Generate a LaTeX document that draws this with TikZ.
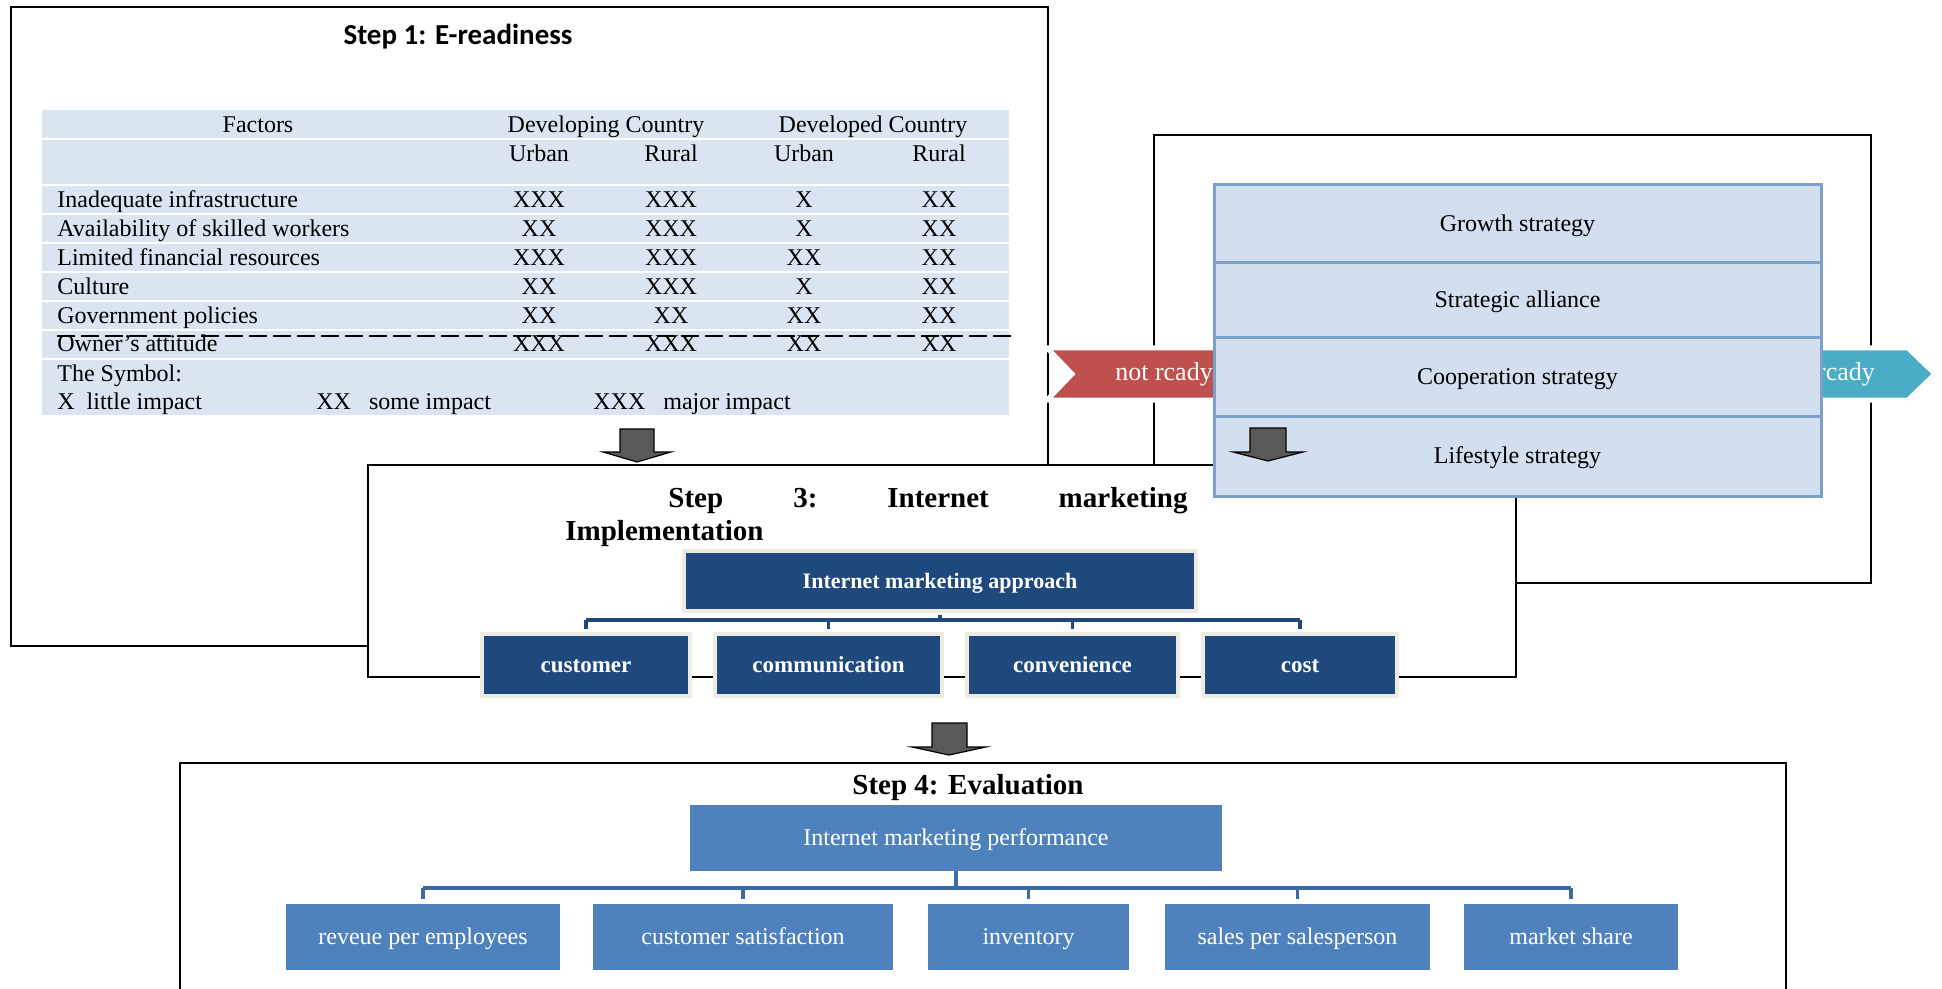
\documentclass[tikz,border=0pt]{standalone}
\usepackage{fontspec}
\setmainfont{Liberation Serif}
\newfontfamily\calibrifont{Carlito}
\definecolor{tabfill}{HTML}{DBE5F1}
\definecolor{stratfill}{HTML}{D3DFEE}
\definecolor{stratline}{HTML}{7BA0CD}
\definecolor{chevred}{HTML}{C0504D}
\definecolor{chevblue}{HTML}{4BACC6}
\definecolor{darkblue}{HTML}{1F497D}
\definecolor{creamline}{HTML}{EEECE1}
\definecolor{midblue}{HTML}{4F81BD}
\definecolor{connblue}{HTML}{3C6AA3}
\definecolor{arrowgray}{HTML}{595959}
\begin{document}
\begin{tikzpicture}[x=0.5pt,y=-0.5pt,
  stepbox/.style={draw=black,fill=white,line width=1.1pt},
  tabtxt/.style={inner sep=0pt,font=\fontsize{12}{14}\selectfont},
  ttlthree/.style={inner sep=0pt,font=\bfseries\fontsize{14.5}{17}\selectfont},
  chevtxt/.style={inner sep=0pt,text=white,font=\fontsize{13}{15}\selectfont},
  chev/.style={draw=white,line width=2.5pt,line join=miter},
  evenbase/.style={text height=0.8em,text depth=0.05em},
  strat/.style={evenbase,draw=stratline,fill=stratfill,line width=1.5pt,minimum width=303.5pt,inner sep=0pt,font=\fontsize{12}{14}\selectfont},
  dkbox/.style={evenbase,draw=creamline,fill=darkblue,line width=2pt,inner sep=0pt,text=white,font=\bfseries\fontsize{11.5}{14}\selectfont},
  lbbox/.style={evenbase,fill=midblue,inner sep=0pt,text=white,minimum height=33pt,font=\fontsize{12}{14}\selectfont},
  blockarrow/.style={draw=black,fill=arrowgray,line width=0.6pt,line join=miter},
  connthree/.style={draw=darkblue,line width=2pt},
  dropthree/.style={draw=darkblue,line width=1.6pt},
  connfour/.style={draw=connblue,line width=2pt},
  dropfour/.style={draw=connblue,line width=1.6pt}
]
\useasboundingbox (0,0) rectangle (1942,989);

% ---------- Step 1 ----------
\draw[stepbox] (11,7) rectangle (1048,646);
\node[inner sep=0pt,anchor=base,font=\calibrifont\bfseries\fontsize{14.5}{17}\selectfont] (title1) at (458,45) {Step 1: E-readiness};

\fill[tabfill] (42,110) rectangle (1009,138);
\fill[tabfill] (42,140) rectangle (1009,184);
\foreach \i in {0,...,5}{
  \fill[tabfill] (42,186+29*\i) rectangle (1009,213+29*\i);
}
\fill[tabfill] (42,360) rectangle (1009,415);

\node[tabtxt,anchor=base] (hfac) at (258,133) {Factors};
\node[tabtxt,anchor=base] (hdev) at (606,133) {Developing Country};
\node[tabtxt,anchor=base] (hded) at (873,133) {Developed Country};
\node[tabtxt,anchor=base] (hu1) at (539,162) {Urban};
\node[tabtxt,anchor=base] (hr1) at (671,162) {Rural};
\node[tabtxt,anchor=base] (hu2) at (804,162) {Urban};
\node[tabtxt,anchor=base] (hr2) at (939,162) {Rural};

\foreach \lab/\a/\b/\c/\d [count=\i] in {
  Inadequate infrastructure/XXX/XXX/X/XX,
  Availability of skilled workers/XX/XXX/X/XX,
  Limited financial resources/XXX/XXX/XX/XX,
  Culture/XX/XXX/X/XX,
  Government policies/XX/XX/XX/XX,
  Owner’s attitude/XXX/XXX/XX/XX}{
  \pgfmathsetmacro\yb{208+28.8*(\i-1)}
  \node[tabtxt,anchor=base west] (fac\i) at (57,\yb) {\lab};
  \node[tabtxt,anchor=base] (du\i) at (539,\yb) {\a};
  \node[tabtxt,anchor=base] (dr\i) at (671,\yb) {\b};
  \node[tabtxt,anchor=base] (eu\i) at (804,\yb) {\c};
  \node[tabtxt,anchor=base] (er\i) at (939,\yb) {\d};
}
\draw[black,line width=1pt,dash pattern=on 9pt off 3pt] (57,336) -- (1013,336);

\node[tabtxt,anchor=base west] (sym) at (57,381) {The Symbol:};
\node[tabtxt,anchor=base west] (sym1) at (57,409) {X\ \ little impact};
\node[tabtxt,anchor=base west] (sym2) at (316,409) {XX\ \ \ some impact};
\node[tabtxt,anchor=base west] (sym3) at (593,409) {XXX\ \ \ major impact};

% ---------- Step 2 outer box ----------
\draw[stepbox] (1154,135) rectangle (1871,583);

% arrow step1 -> step3
\draw[blockarrow] (620,429) -- (654,429) -- (654,452) -- (671,452) -- (637,462) -- (603,452) -- (620,452) -- cycle;

% ---------- Step 3 box ----------
\draw[stepbox] (368,465) rectangle (1516,677);

% ---------- chevrons ----------
\draw[chev,fill=chevred] (1047,348) -- (1300,348) -- (1300,400) -- (1047,400) -- (1072,374) -- cycle;
\node[chevtxt] (notready) at (1164,374) {not rcady};
\draw[chev,fill=chevblue] (1740,348) -- (1908,348) -- (1935,374) -- (1908,400) -- (1740,400) -- cycle;
\node[chevtxt] (ready) at (1846,374) {rcady};

% ---------- strategy panel ----------
\node[strat,minimum height=39.5pt] (s1) at (1517.5,224.5) {Growth strategy};
\node[strat,minimum height=37.5pt] (s2) at (1517.5,300.5) {Strategic alliance};
\node[strat,minimum height=39pt] (s3) at (1517.5,377) {Cooperation strategy};
\node[strat,minimum height=40pt] (s4) at (1517.5,456) {Lifestyle strategy};
\draw[blockarrow] (1250,428) -- (1286,428) -- (1286,452) -- (1303,452) -- (1268,461) -- (1233,452) -- (1250,452) -- cycle;

% ---------- Step 3 content ----------
\node[ttlthree,anchor=base west] (w1) at (668,507) {Step};
\node[ttlthree,anchor=base west] (w2) at (793,507) {3:};
\node[ttlthree,anchor=base west] (w3) at (887,507) {Internet};
\node[ttlthree,anchor=base east] (w4) at (1188,507) {marketing};
\node[ttlthree,anchor=base west] (w5) at (565,540) {Implementation};

\coordinate (bthree) at (940,620);
\node[dkbox,minimum width=256pt,minimum height=30.25pt,font=\bfseries\fontsize{11}{13}\selectfont] (ima) at (940,580.75) {Internet marketing approach};
\node[dkbox,minimum width=104pt,minimum height=30.75pt] (cust) at (586,665) {customer};
\node[dkbox,minimum width=113.5pt,minimum height=30.75pt] (comm) at (828.5,665) {communication};
\node[dkbox,minimum width=105.5pt,minimum height=30.75pt] (conv) at (1072.5,665) {convenience};
\node[dkbox,minimum width=97pt,minimum height=30.75pt] (cost) at (1300,665) {cost};
\draw[connthree,shorten <=1pt] (ima.south) -- (ima.south |- bthree);
\draw[connthree] (cust.north |- bthree) -- (cost.north |- bthree);
\foreach \n in {cust,comm,conv,cost}{
  \draw[dropthree,shorten >=1.5pt] (\n.north |- bthree) -- (\n.north);
}

% ---------- arrow step3 -> step4 ----------
\draw[blockarrow] (932,723) -- (967,723) -- (967,747) -- (986,747) -- (949,755) -- (912,747) -- (932,747) -- cycle;

% ---------- Step 4 ----------
\draw[black,line width=1.1pt] (180,989) |- (1786,763) -- (1786,989);
\node[ttlthree,anchor=base] (title4) at (968,794) {Step 4: Evaluation};

\coordinate (bfour) at (956,888);
\node[lbbox,minimum width=266pt] (perf) at (956,838) {Internet marketing performance};
\node[lbbox,minimum width=137pt] (rev) at (423,937) {reveue per employees};
\node[lbbox,minimum width=150pt] (csat) at (743,937) {customer satisfaction};
\node[lbbox,minimum width=100.5pt] (inv) at (1028.5,937) {inventory};
\node[lbbox,minimum width=132.5pt] (sales) at (1297.5,937) {sales per salesperson};
\node[lbbox,minimum width=107pt] (mshare) at (1571,937) {market share};
\draw[connfour] (perf.south) -- (perf.south |- bfour);
\draw[connfour] (rev.north |- bfour) -- (mshare.north |- bfour);
\foreach \n in {rev,csat,inv,sales,mshare}{
  \draw[dropfour,shorten >=2.5pt] (\n.north |- bfour) -- (\n.north);
}
\end{tikzpicture}
\end{document}
